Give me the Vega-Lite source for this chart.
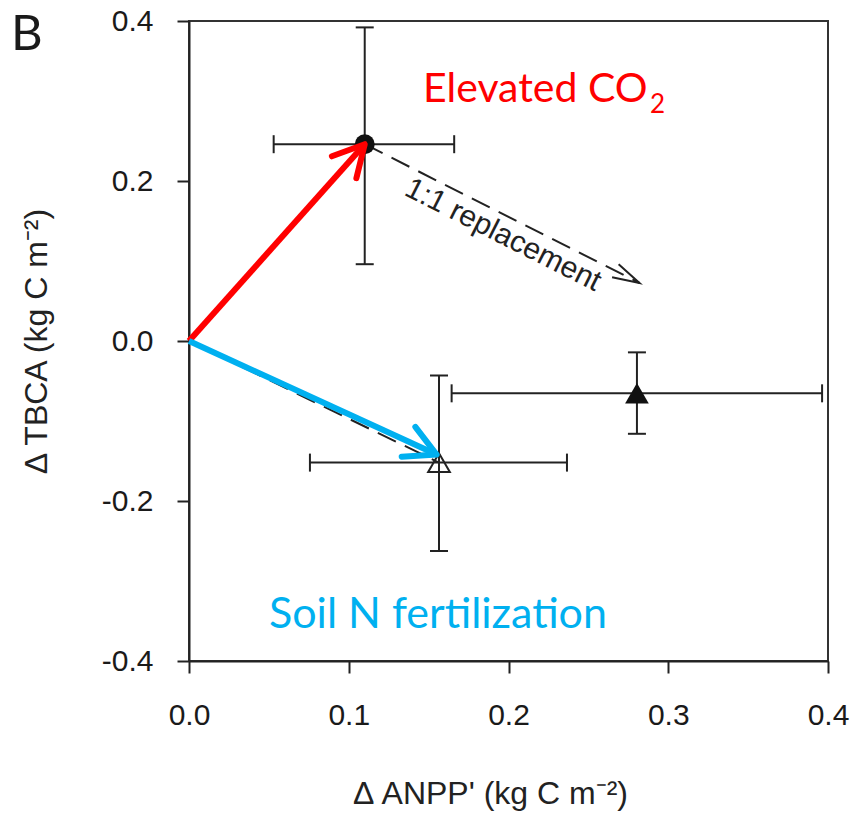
{
  "$schema": "https://vega.github.io/schema/vega-lite/v6.json",
  "width": 639,
  "height": 640,
  "autosize": {"type": "none"},
  "padding": {"left": 189, "top": 21, "right": 24, "bottom": 153},
  "background": "white",
  "config": {
    "view": {"stroke": "#333", "strokeWidth": 2},
    "axis": {
      "grid": false,
      "domainColor": "#222",
      "domainWidth": 2,
      "tickColor": "#222",
      "tickWidth": 2,
      "tickSize": 12,
      "labelFont": "Liberation Sans",
      "labelFontSize": 30,
      "labelColor": "#1a1a1a",
      "titleFont": "Liberation Sans",
      "titleFontSize": 32,
      "titleFontWeight": "normal",
      "titleColor": "#222"
    }
  },
  "datasets": {
    "obs": [
      {"id": "co2", "x": 0.110, "y": 0.246, "xlo": 0.053, "xhi": 0.166, "ylo": 0.096, "yhi": 0.392},
      {"id": "nfert_open", "x": 0.1565, "y": -0.152, "xlo": 0.0757, "xhi": 0.2366, "ylo": -0.2625, "yhi": -0.043},
      {"id": "nfert_filled", "x": 0.2804, "y": -0.0654, "xlo": 0.1644, "xhi": 0.3963, "ylo": -0.116, "yhi": -0.0142}
    ],
    "segments": [
      {"id": "co2", "x0": 0, "y0": 0, "x1": 0.110, "y1": 0.246},
      {"id": "nfert", "x0": 0, "y0": 0, "x1": 0.155, "y1": -0.142},
      {"id": "replace", "x0": 0.110, "y0": 0.246, "x1": 0.282, "y1": 0.0725},
      {"id": "nfert_replace", "x0": 0, "y0": 0, "x1": 0.1565, "y1": -0.152}
    ],
    "notes": [
      {"id": "panel", "label": "B", "x": -0.1115, "y": 0.3637},
      {"id": "co2", "label": "Elevated CO", "x": 0.1465, "y": 0.299},
      {"id": "co2sub", "label": "2", "x": 0.2885, "y": 0.285},
      {"id": "nfert", "label": "Soil N fertilization", "x": 0.0501, "y": -0.3588},
      {"id": "replace", "label": "1:1 replacement", "x": 0.1966, "y": 0.1325}
    ]
  },
  "layer": [
    {
      "mark": {"type": "rule", "color": "#222", "strokeWidth": 2},
      "encoding": {"y": {"datum": 0, "type": "quantitative"}}
    },
    {
      "data": {"name": "segments"},
      "transform": [{"filter": "datum.id == 'replace' || datum.id == 'nfert_replace'"}],
      "mark": {"type": "rule", "color": "#222", "strokeWidth": 2, "strokeDash": [20, 10]},
      "encoding": {
        "x": {
          "field": "x0", "type": "quantitative",
          "scale": {"domain": [0, 0.4], "nice": false, "zero": false},
          "axis": {
            "values": [0, 0.1, 0.2, 0.3, 0.4],
            "format": ".1f",
            "labelFlush": false,
            "labelOverlap": false,
            "labelPadding": 27,
            "title": "Δ ANPP' (kg C m⁻²)",
            "titleX": 301,
            "titleY": 142,
            "titleBaseline": "alphabetic"
          }
        },
        "y": {
          "field": "y0", "type": "quantitative",
          "scale": {"domain": [-0.4, 0.4], "nice": false, "zero": false},
          "axis": {
            "values": [-0.4, -0.2, 0, 0.2, 0.4],
            "labelExpr": "datum.value < 0 ? '-' + format(-datum.value, '.1f') : format(datum.value, '.1f')",
            "labelOverlap": false,
            "labelPadding": 24,
            "title": "Δ TBCA (kg C m⁻²)",
            "titleAngle": -90,
            "titleX": -143,
            "titleY": 320,
            "titleAlign": "center",
            "titleBaseline": "alphabetic"
          }
        },
        "x2": {"field": "x1"},
        "y2": {"field": "y1"}
      }
    },
    {
      "data": {"name": "obs"},
      "mark": {"type": "rule", "color": "#222", "strokeWidth": 2},
      "encoding": {
        "x": {"field": "xlo", "type": "quantitative"},
        "x2": {"field": "xhi"},
        "y": {"field": "y", "type": "quantitative"}
      }
    },
    {
      "data": {"name": "obs"},
      "mark": {"type": "rule", "color": "#222", "strokeWidth": 2},
      "encoding": {
        "x": {"field": "x", "type": "quantitative"},
        "y": {"field": "ylo", "type": "quantitative"},
        "y2": {"field": "yhi"}
      }
    },
    {
      "data": {"name": "obs"},
      "mark": {"type": "tick", "orient": "vertical", "size": 18, "thickness": 2, "color": "#222", "opacity": 1},
      "encoding": {
        "x": {"field": "xlo", "type": "quantitative"},
        "y": {"field": "y", "type": "quantitative"}
      }
    },
    {
      "data": {"name": "obs"},
      "mark": {"type": "tick", "orient": "vertical", "size": 18, "thickness": 2, "color": "#222", "opacity": 1},
      "encoding": {
        "x": {"field": "xhi", "type": "quantitative"},
        "y": {"field": "y", "type": "quantitative"}
      }
    },
    {
      "data": {"name": "obs"},
      "mark": {"type": "tick", "orient": "horizontal", "size": 18, "thickness": 2, "color": "#222", "opacity": 1},
      "encoding": {
        "x": {"field": "x", "type": "quantitative"},
        "y": {"field": "ylo", "type": "quantitative"}
      }
    },
    {
      "data": {"name": "obs"},
      "mark": {"type": "tick", "orient": "horizontal", "size": 18, "thickness": 2, "color": "#222", "opacity": 1},
      "encoding": {
        "x": {"field": "x", "type": "quantitative"},
        "y": {"field": "yhi", "type": "quantitative"}
      }
    },
    {
      "data": {"name": "obs"},
      "transform": [{"filter": "datum.id == 'co2'"}],
      "mark": {"type": "point", "shape": "circle", "filled": true, "color": "#111", "size": 400, "opacity": 1},
      "encoding": {
        "x": {"field": "x", "type": "quantitative"},
        "y": {"field": "y", "type": "quantitative"}
      }
    },
    {
      "data": {"name": "obs"},
      "transform": [{"filter": "datum.id == 'nfert_filled'"}],
      "mark": {"type": "point", "shape": "triangle-up", "filled": true, "color": "#111", "size": 560, "opacity": 1},
      "encoding": {
        "x": {"field": "x", "type": "quantitative"},
        "y": {"field": "y", "type": "quantitative"}
      }
    },
    {
      "data": {"name": "obs"},
      "transform": [{"filter": "datum.id == 'nfert_open'"}],
      "mark": {"type": "point", "shape": "triangle-up", "filled": false, "color": "#222", "strokeWidth": 2, "size": 470, "opacity": 1},
      "encoding": {
        "x": {"field": "x", "type": "quantitative"},
        "y": {"field": "y", "type": "quantitative"}
      }
    },
    {
      "data": {"name": "segments"},
      "transform": [{"filter": "datum.id == 'co2'"}],
      "mark": {"type": "rule", "color": "#ff0000", "strokeWidth": 6},
      "encoding": {
        "x": {"field": "x0", "type": "quantitative"},
        "y": {"field": "y0", "type": "quantitative"},
        "x2": {"field": "x1"},
        "y2": {"field": "y1"}
      }
    },
    {
      "data": {"name": "segments"},
      "transform": [{"filter": "datum.id == 'nfert'"}],
      "mark": {"type": "rule", "color": "#00b0f0", "strokeWidth": 6},
      "encoding": {
        "x": {"field": "x0", "type": "quantitative"},
        "y": {"field": "y0", "type": "quantitative"},
        "x2": {"field": "x1"},
        "y2": {"field": "y1"}
      }
    },
    {
      "data": {"name": "segments"},
      "transform": [{"filter": "datum.id == 'co2'"}],
      "mark": {"type": "point", "shape": "M-0.883,-0.469L0,0L-0.883,0.469", "filled": false, "stroke": "#ff0000", "strokeWidth": 6, "strokeCap": "round", "strokeJoin": "round", "size": 4900, "angle": -48.2, "opacity": 1},
      "encoding": {
        "x": {"field": "x1", "type": "quantitative"},
        "y": {"field": "y1", "type": "quantitative"}
      }
    },
    {
      "data": {"name": "segments"},
      "transform": [{"filter": "datum.id == 'nfert'"}],
      "mark": {"type": "point", "shape": "M-0.883,-0.469L0,0L-0.883,0.469", "filled": false, "stroke": "#00b0f0", "strokeWidth": 6, "strokeCap": "round", "strokeJoin": "round", "size": 4900, "angle": 24.6, "opacity": 1},
      "encoding": {
        "x": {"field": "x1", "type": "quantitative"},
        "y": {"field": "y1", "type": "quantitative"}
      }
    },
    {
      "data": {"name": "segments"},
      "transform": [{"filter": "datum.id == 'replace'"}],
      "mark": {"type": "point", "shape": "M-0.966,-0.259L0,0L-0.966,0.259", "filled": false, "stroke": "#222", "strokeWidth": 2, "size": 3136, "angle": 26.9, "opacity": 1},
      "encoding": {
        "x": {"field": "x1", "type": "quantitative"},
        "y": {"field": "y1", "type": "quantitative"}
      }
    },
    {
      "data": {"name": "notes"},
      "transform": [{"filter": "datum.id == 'panel'"}],
      "mark": {"type": "text", "font": "Lato", "fontSize": 49, "color": "#1a1a1a", "align": "left", "baseline": "alphabetic"},
      "encoding": {
        "x": {"field": "x", "type": "quantitative"},
        "y": {"field": "y", "type": "quantitative"},
        "text": {"field": "label"}
      }
    },
    {
      "data": {"name": "notes"},
      "transform": [{"filter": "datum.id == 'co2'"}],
      "mark": {"type": "text", "font": "Lato", "fontSize": 41, "color": "#ff0000", "align": "left", "baseline": "alphabetic"},
      "encoding": {
        "x": {"field": "x", "type": "quantitative"},
        "y": {"field": "y", "type": "quantitative"},
        "text": {"field": "label"}
      }
    },
    {
      "data": {"name": "notes"},
      "transform": [{"filter": "datum.id == 'co2sub'"}],
      "mark": {"type": "text", "font": "Lato", "fontSize": 26, "color": "#ff0000", "align": "left", "baseline": "alphabetic"},
      "encoding": {
        "x": {"field": "x", "type": "quantitative"},
        "y": {"field": "y", "type": "quantitative"},
        "text": {"field": "label"}
      }
    },
    {
      "data": {"name": "notes"},
      "transform": [{"filter": "datum.id == 'nfert'"}],
      "mark": {"type": "text", "font": "Lato", "fontSize": 43, "color": "#00b0f0", "align": "left", "baseline": "alphabetic"},
      "encoding": {
        "x": {"field": "x", "type": "quantitative"},
        "y": {"field": "y", "type": "quantitative"},
        "text": {"field": "label"}
      }
    },
    {
      "data": {"name": "notes"},
      "transform": [{"filter": "datum.id == 'replace'"}],
      "mark": {"type": "text", "font": "Liberation Sans", "fontSize": 30, "color": "#222", "align": "center", "baseline": "middle", "angle": 26.8},
      "encoding": {
        "x": {"field": "x", "type": "quantitative"},
        "y": {"field": "y", "type": "quantitative"},
        "text": {"field": "label"}
      }
    }
  ]
}
